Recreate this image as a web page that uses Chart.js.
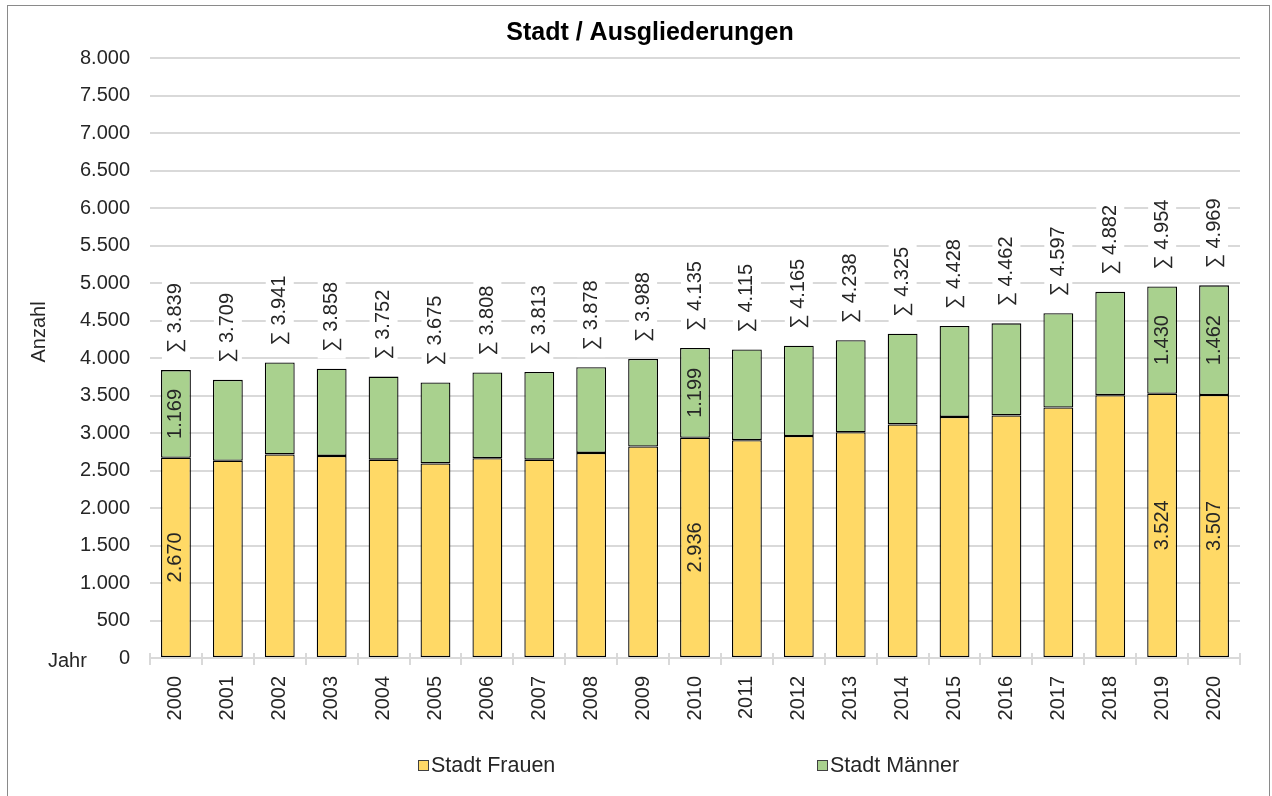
<!DOCTYPE html>
<html>
<head>
<meta charset="utf-8">
<title>Stadt / Ausgliederungen</title>
<script src="https://cdn.jsdelivr.net/npm/chart.js@4.4.1/dist/chart.umd.min.js"></script>
<style>
  html, body { margin: 0; padding: 0; background: #fff; }
  #wrap { width: 1272px; height: 796px; }
</style>
</head>
<body>
<div id="wrap"><canvas id="ausgliederungenChart" width="1272" height="796"></canvas></div>
<script>
const years = ['2000', '2001', '2002', '2003', '2004', '2005', '2006', '2007', '2008', '2009', '2010',
               '2011', '2012', '2013', '2014', '2015', '2016', '2017', '2018', '2019', '2020'];
const frauen = [2670, 2630, 2715, 2695, 2645, 2595, 2665, 2645, 2735, 2820, 2936,
                2905, 2960, 3010, 3115, 3215, 3235, 3340, 3505, 3524, 3507];
const maenner = [1169, 1079, 1226, 1163, 1107, 1080, 1143, 1168, 1143, 1168, 1199,
                 1210, 1205, 1228, 1210, 1213, 1227, 1257, 1377, 1430, 1462];
// only these years get the per-segment value labels
const labelledYears = ['2000', '2010', '2019', '2020'];
const yTicks = [0, 500, 1000, 1500, 2000, 2500, 3000, 3500, 4000, 4500, 5000, 5500, 6000, 6500, 7000, 7500, 8000];

const FONT = "'Liberation Sans', Arial, sans-serif";
const TEXT = '#262626';

function formatDe(n) {
    return String(Math.round(n)).replace(/\B(?=(\d{3})+(?!\d))/g, '.');
}

function drawVertical(ctx, text, x, y, align) {
    ctx.save();
    ctx.translate(x, y);
    ctx.rotate(-Math.PI / 2);
    ctx.textAlign = align;
    ctx.textBaseline = 'middle';
    ctx.fillText(text, 0, 0);
    ctx.restore();
}

// frame, title, axis captions and legend
const decorations = {
    id: 'decorations',
    beforeDraw(chart) {
        const ctx = chart.ctx;
        ctx.save();
        ctx.fillStyle = '#fff';
        ctx.fillRect(0, 0, chart.width, chart.height);
        ctx.strokeStyle = '#8a8a8a';
        ctx.lineWidth = 1;
        ctx.strokeRect(7.5, 5.5, 1262, 792);
        ctx.restore();
    },
    afterDraw(chart) {
        const ctx = chart.ctx;
        ctx.save();
        ctx.fillStyle = '#000';
        ctx.font = 'bold 25px ' + FONT;
        ctx.textAlign = 'center';
        ctx.textBaseline = 'middle';
        ctx.fillText('Stadt / Ausgliederungen', 650, 33);

        ctx.fillStyle = TEXT;
        ctx.font = '20px ' + FONT;
        drawVertical(ctx, 'Anzahl', 39, 332, 'center');
        ctx.textAlign = 'left';
        ctx.fillText('Jahr', 48, 661);

        // legend
        ctx.font = '21.5px ' + FONT;
        const items = [[418, 0], [817, 1]];
        items.forEach(([x, di]) => {
            const ds = chart.data.datasets[di];
            ctx.fillStyle = ds.backgroundColor;
            ctx.fillRect(x, 760, 11, 11);
            ctx.strokeStyle = '#404040';
            ctx.lineWidth = 1;
            ctx.strokeRect(x + 0.5, 760.5, 10, 10);
            ctx.fillStyle = TEXT;
            ctx.textAlign = 'left';
            ctx.fillText(ds.label, x + 13, 766);
        });
        ctx.restore();
    }
};

// value labels inside the segments and the rotated totals above each bar
const barLabels = {
    id: 'barLabels',
    afterDatasetsDraw(chart) {
        const ctx = chart.ctx;
        ctx.save();
        ctx.font = '20px ' + FONT;
        ctx.fillStyle = TEXT;
        chart.data.datasets.forEach((ds, di) => {
            chart.getDatasetMeta(di).data.forEach((bar, i) => {
                if (!labelledYears.includes(years[i])) return;
                drawVertical(ctx, formatDe(ds.data[i]), bar.x, (bar.y + bar.base) / 2, 'center');
            });
        });
        chart.getDatasetMeta(1).data.forEach((bar, i) => {
            const text = '\u2211 ' + formatDe(frauen[i] + maenner[i]);
            const w = ctx.measureText(text).width;
            const start = bar.y - 17;
            ctx.fillStyle = '#fff';
            ctx.fillRect(bar.x - 14, start - w - 5, 28, w + 12);
            ctx.fillStyle = TEXT;
            drawVertical(ctx, text, bar.x, start, 'left');
        });
        ctx.restore();
    }
};

// little marks crossing the category axis at the category borders
const axisMarks = {
    id: 'axisMarks',
    afterDatasetsDraw(chart) {
        const x = chart.scales.x;
        const ctx = chart.ctx;
        const half = (x.getPixelForValue(1) - x.getPixelForValue(0)) / 2;
        ctx.save();
        ctx.strokeStyle = '#d9d9d9';
        ctx.lineWidth = 2;
        for (let i = 0; i <= years.length; i++) {
            const px = Math.round(x.getPixelForValue(i) - half);
            ctx.beginPath();
            ctx.moveTo(px, x.top - 5);
            ctx.lineTo(px, x.top + 7);
            ctx.stroke();
        }
        ctx.restore();
    }
};

Chart.defaults.font.family = FONT;
Chart.defaults.color = TEXT;

const ctx = document.getElementById('ausgliederungenChart').getContext('2d');
new Chart(ctx, {
    type: 'bar',
    data: {
        labels: years,
        datasets: [{
            label: 'Stadt Frauen',
            data: frauen,
            backgroundColor: '#FFD966',
            borderColor: '#000',
            borderWidth: 1.3,
            borderSkipped: false,
            barPercentage: 0.575,
            categoryPercentage: 1
        }, {
            label: 'Stadt Männer',
            data: maenner,
            backgroundColor: '#A9D18E',
            borderColor: '#000',
            borderWidth: 1.3,
            borderSkipped: false,
            barPercentage: 0.575,
            categoryPercentage: 1
        }]
    },
    options: {
        responsive: false,
        animation: false,
        devicePixelRatio: 1,
        layout: { padding: { top: 58, right: 32, bottom: 0, left: 0 } },
        plugins: {
            legend: { display: false },
            title: { display: false },
            tooltip: { enabled: false }
        },
        scales: {
            x: {
                stacked: true,
                afterFit(scale) { scale.height = 138; },
                grid: { display: false },
                border: { display: true, color: '#d9d9d9', width: 2 },
                ticks: {
                    autoSkip: false,
                    minRotation: 90,
                    maxRotation: 90,
                    padding: 10,
                    color: TEXT,
                    font: { size: 20 }
                }
            },
            y: {
                stacked: true,
                min: 0,
                max: 8000,
                afterFit(scale) { scale.width = 150; },
                afterBuildTicks(scale) { scale.ticks = yTicks.map(v => ({ value: v })); },
                grid: { color: '#d9d9d9', lineWidth: 2, drawTicks: false },
                border: { display: false },
                ticks: {
                    padding: 20,
                    color: TEXT,
                    font: { size: 20 },
                    callback: v => formatDe(v)
                }
            }
        }
    },
    plugins: [decorations, barLabels, axisMarks]
});
</script>
</body>
</html>
